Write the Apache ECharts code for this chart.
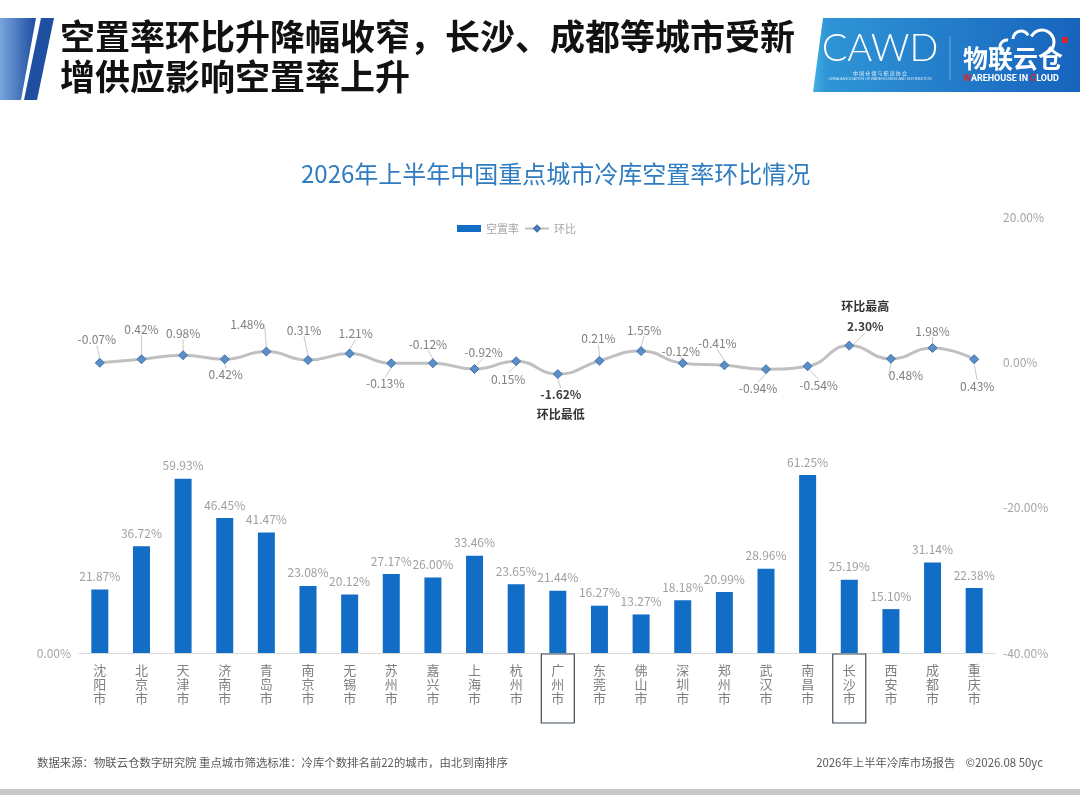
<!DOCTYPE html>
<html lang="zh-CN">
<head>
<meta charset="UTF-8">
<title>2026年上半年中国重点城市冷库空置率环比情况</title>
<script src="https://cdn.jsdelivr.net/npm/echarts@6/dist/echarts.min.js"></script>
<style>
    html, body { margin: 0; padding: 0; background: #fff; }
    #main { width: 1080px; height: 795px; }
</style>
</head>
<body>
<div id="main"></div>
<script type="text/javascript">
// 城市（由北到南）
const cities = ['沈阳市', '北京市', '天津市', '济南市', '青岛市', '南京市', '无锡市', '苏州市', '嘉兴市', '上海市', '杭州市',
    '广州市', '东莞市', '佛山市', '深圳市', '郑州市', '武汉市', '南昌市', '长沙市', '西安市', '成都市', '重庆市'];
// 空置率 %
const vacancy = [21.87, 36.72, 59.93, 46.45, 41.47, 23.08, 20.12, 27.17, 26.00, 33.46, 23.65,
    21.44, 16.27, 13.27, 18.18, 20.99, 28.96, 61.25, 25.19, 15.10, 31.14, 22.38];
// 环比 %
const mom = [-0.07, 0.42, 0.98, 0.42, 1.48, 0.31, 1.21, -0.13, -0.12, -0.92, 0.15,
    -1.62, 0.21, 1.55, -0.12, -0.41, -0.94, -0.54, 2.30, 0.48, 1.98, 0.43];
const boxedCities = ['广州市', '长沙市'];
const rightTicks = { min: -40, max: 20, step: 20 };

// 环比标签的偏移（像素，相对数据点）
const momLabelShift = [[-3, -23], [0, -30], [0, -22], [1, 15], [-19, -27], [-4, -30], [6, -20], [-6, 20], [-5, -19], [9, -17], [-8, 18],
    [3, 30], [-1, -22], [3, -21], [-2, -12], [-7, -22], [-8, 19], [11, 19], [16, -29], [15, 17], [0, -17], [3, 27]];

const maxIdx = mom.indexOf(Math.max(...mom));
const minIdx = mom.indexOf(Math.min(...mom));
const FONT = "'Noto Sans CJK SC', 'Noto Sans', sans-serif";
const PI = Math.PI;

let myChart = echarts.init(document.getElementById('main'));

let xData = cities.map(function (c) {
    if (boxedCities.indexOf(c) >= 0) {
        return { value: c, textStyle: { borderColor: '#3d4b5c', borderWidth: 1.2 } };
    }
    return c;
});

let option = {
    backgroundColor: '#fff',
    textStyle: { fontFamily: FONT },
    title: {
        text: '2026年上半年中国重点城市冷库空置率环比情况',
        left: 296,
        top: 157,
        textStyle: { fontSize: 24, fontWeight: 'normal', color: '#2f7cc1', fontFamily: FONT }
    },
    legend: {
        left: 452,
        top: 218,
        itemWidth: 24,
        itemHeight: 7,
        itemGap: 5,
        textStyle: { fontSize: 11, color: '#a6a6a6' },
        data: [{ name: '空置率', icon: 'rect' }, { name: '环比' }]
    },
    grid: { left: 79, right: 85, top: 217, bottom: 142 },
    xAxis: {
        type: 'category',
        data: xData,
        axisLine: { lineStyle: { color: '#d9d9d9', width: 1 } },
        axisTick: { show: false },
        axisLabel: {
            interval: 0,
            margin: 1,
            fontSize: 13,
            lineHeight: 14,
            color: '#7f7f7f',
            padding: [9, 10, 18, 10],
            formatter: function (v) { return v.split('').join('\n'); }
        }
    },
    yAxis: [{
        type: 'value',
        min: 0,
        max: 150,
        interval: 50,
        splitLine: { show: false },
        axisLine: { show: false },
        axisTick: { show: false },
        axisLabel: {
            margin: 8,
            fontSize: 12,
            color: '#a6a6a6',
            formatter: function (v) { return v === 0 ? '0.00%' : ''; }
        }
    }, {
        type: 'value',
        position: 'right',
        min: rightTicks.min,
        max: rightTicks.max,
        interval: rightTicks.step,
        splitLine: { show: false },
        axisLine: { show: false },
        axisTick: { show: false },
        axisLabel: {
            margin: 8,
            fontSize: 12,
            color: '#a6a6a6',
            formatter: function (v) { return v.toFixed(2) + '%'; }
        }
    }],
    series: [{
        name: '空置率',
        type: 'bar',
        data: vacancy,
        barWidth: 17,
        itemStyle: { color: '#126dc6' },
        label: {
            show: true,
            position: 'top',
            distance: 7,
            fontSize: 12,
            color: '#a0a0a0',
            formatter: function (p) { return p.value.toFixed(2) + '%'; }
        }
    }, {
        name: '环比',
        type: 'line',
        yAxisIndex: 1,
        data: mom,
        smooth: true,
        symbol: 'diamond',
        symbolSize: 9,
        lineStyle: { color: '#c0c0c0', width: 3 },
        itemStyle: { color: '#5b8ec6', borderColor: '#3f74b0', borderWidth: 1 },
        label: {
            show: true,
            position: 'inside',
            fontSize: 12,
            color: '#808080',
            formatter: function (p) {
                let t = p.value.toFixed(2) + '%';
                if (p.dataIndex === maxIdx) return '{n|环比最高}\n{b|' + t + '}';
                if (p.dataIndex === minIdx) return '{b|' + t + '}\n{n|环比最低}';
                return t;
            },
            rich: {
                b: { fontSize: 12, fontWeight: 'bold', color: '#404040', lineHeight: 20 },
                n: { fontSize: 12, fontWeight: 'bold', color: '#333333', lineHeight: 20 }
            }
        },
        labelLine: { show: true, lineStyle: { color: '#c8c8c8', width: 1 } },
        labelLayout: function (p) {
            let s = momLabelShift[p.dataIndex];
            return { dx: s[0], dy: s[1] };
        }
    }],
    graphic: [
        // 左侧色条
        {
            type: 'polygon', silent: true,
            shape: { points: [[0, 18], [36, 18], [21, 100], [0, 100]] },
            style: {
                fill: new echarts.graphic.LinearGradient(0, 0, 1, 0, [
                    { offset: 0, color: '#79a6de' }, { offset: 1, color: '#1b4c9f' }
                ])
            }
        },
        {
            type: 'polygon', silent: true,
            shape: { points: [[41, 18], [54, 18], [37, 100], [24, 100]] },
            style: { fill: '#1f4fa0' }
        },
        {
            type: 'text', x: 60, y: 17, silent: true,
            style: {
                text: '空置率环比升降幅收窄，长沙、成都等城市受新\n增供应影响空置率上升',
                font: 'bold 35px ' + FONT,
                lineHeight: 40,
                fill: '#111111'
            }
        },
        // 右上角标志
        {
            type: 'polygon', silent: true,
            shape: { points: [[823, 18], [1080, 18], [1080, 92], [813, 92]] },
            style: {
                fill: new echarts.graphic.LinearGradient(0, 0, 1, 0, [
                    { offset: 0, color: '#45b0e4' }, { offset: 0.05, color: '#2f95d6' }, { offset: 1, color: '#1763bd' }
                ])
            }
        },
        {
            type: 'text', x: 880, y: 49, silent: true,
            style: {
                text: 'CAWD', font: '300 38px Lato, sans-serif', fill: '#ffffff',
                align: 'center', verticalAlign: 'middle'
            }
        },
        {
            type: 'text', x: 880, y: 73, silent: true,
            style: { text: '中 国 仓 储 与 配 送 协 会', font: '5px ' + FONT, fill: 'rgba(255,255,255,0.85)', align: 'center', verticalAlign: 'middle' }
        },
        {
            type: 'text', x: 880, y: 79, silent: true,
            style: { text: 'CHINA ASSOCIATION OF WAREHOUSING AND DISTRIBUTION', font: '3.5px sans-serif', fill: 'rgba(255,255,255,0.8)', align: 'center', verticalAlign: 'middle' }
        },
        {
            type: 'line', silent: true,
            shape: { x1: 950, y1: 36, x2: 950, y2: 80 },
            style: { stroke: 'rgba(255,255,255,0.35)', lineWidth: 1 }
        },
        // 云朵轮廓
        {
            type: 'arc', silent: true,
            shape: { cx: 1007, cy: 47, r: 7, startAngle: PI * 0.5, endAngle: PI * 1.55, clockwise: true },
            style: { fill: 'none', stroke: '#ffffff', lineWidth: 3 }
        },
        {
            type: 'arc', silent: true,
            shape: { cx: 1021, cy: 39, r: 8, startAngle: PI * 1.0, endAngle: PI * 1.85, clockwise: true },
            style: { fill: 'none', stroke: '#ffffff', lineWidth: 3 }
        },
        {
            type: 'arc', silent: true,
            shape: { cx: 1042, cy: 42, r: 12, startAngle: PI * 1.15, endAngle: PI * 2.45, clockwise: true },
            style: { fill: 'none', stroke: '#ffffff', lineWidth: 3 }
        },
        {
            type: 'rect', silent: true,
            shape: { x: 1062, y: 37, width: 6, height: 6 },
            style: { fill: '#d9252e' }
        },
        {
            type: 'text', x: 963, y: 58, silent: true,
            style: { text: '物联云仓', font: 'bold 25px ' + FONT, fill: '#ffffff', verticalAlign: 'middle' }
        },
        {
            type: 'text', x: 963, y: 79, silent: true,
            style: {
                text: '{r|W}AREHOUSE IN {r|C}LOUD',
                verticalAlign: 'middle',
                rich: {
                    r: { font: 'bold 9px Roboto, sans-serif', fill: '#d9252e' }
                },
                font: 'bold 9px Roboto, sans-serif',
                fill: '#ffffff'
            }
        },
        // 页脚
        {
            type: 'text', x: 37, y: 763, silent: true,
            style: {
                text: '数据来源：物联云仓数字研究院 重点城市筛选标准：冷库个数排名前22的城市，由北到南排序',
                font: '11.4px ' + FONT, fill: '#595959', verticalAlign: 'middle'
            }
        },
        {
            type: 'text', x: 1043, y: 763, silent: true,
            style: {
                text: '2026年上半年冷库市场报告    ©2026.08 50yc',
                font: '11.4px ' + FONT, fill: '#595959', align: 'right', verticalAlign: 'middle'
            }
        },
        {
            type: 'rect', silent: true,
            shape: { x: 0, y: 789, width: 1080, height: 6 },
            style: { fill: '#c8c8c8' }
        }
    ]
};

myChart.setOption(option);
</script>
</body>
</html>
